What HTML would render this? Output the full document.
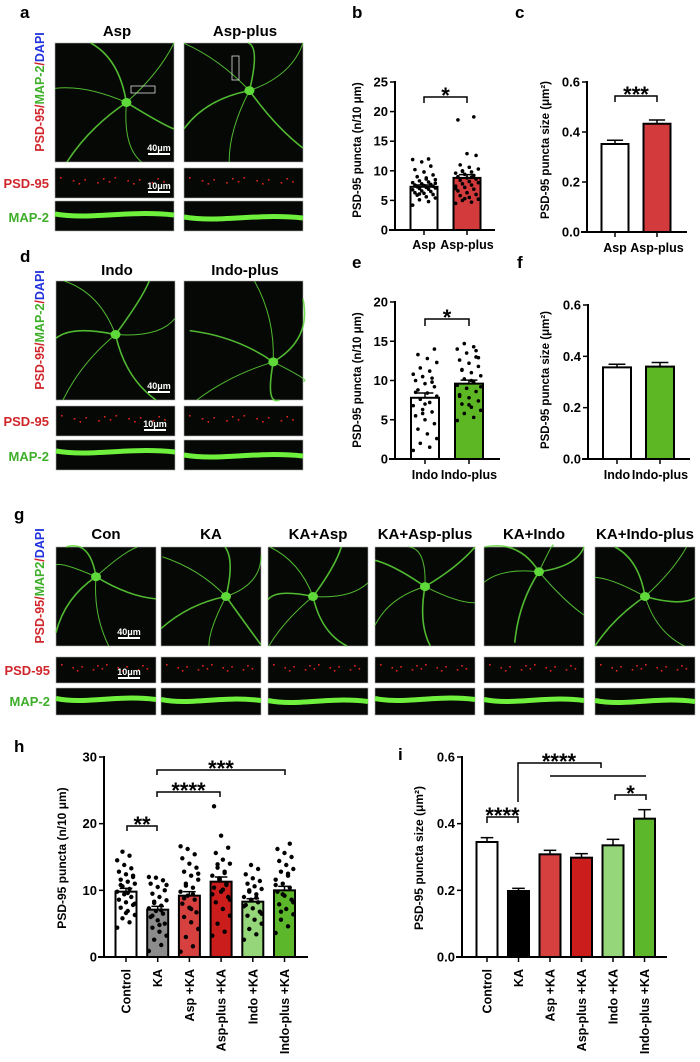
<!DOCTYPE html>
<html><head><meta charset="utf-8">
<style>
html,body{margin:0;padding:0;background:#fff;}
svg{display:block;font-family:"Liberation Sans",Arial,sans-serif;}
</style></head>
<body>
<svg id="fig" width="700" height="1062" viewBox="0 0 700 1062" xmlns="http://www.w3.org/2000/svg">
<g id="micro"></g>
<g id="charts"></g>
</svg>
<script>
// ===== Chart data =====
const bCats = ["Asp","Asp-plus"];
const bVals = [7.3, 8.8];
const bErrs = [0.3, 0.55];
const bDots0 = [4.2,4.8,5.1,5.4,5.6,5.9,6.0,6.2,6.3,6.5,6.6,6.8,6.9,7.0,7.1,7.2,7.3,7.4,7.5,7.6,7.7,7.8,8.0,8.1,8.3,8.5,8.8,9.0,9.3,9.8,10.2,10.8,11.5,11.9,12.0,6.1,7.9,8.6];
const bDots1 = [4.5,4.7,5.0,5.2,5.5,5.8,6.0,6.3,6.6,6.9,7.2,7.4,7.6,7.8,8.0,8.2,8.4,8.6,8.8,9.0,9.2,9.4,9.6,9.8,10.0,10.3,10.6,11.0,12.6,12.9,18.6,19.1,5.3,7.0,8.9,9.9];
const bTicks = [0,5,10,15,20,25];

const cCats = ["Asp","Asp-plus"];
const cVals = [0.352, 0.433];
const cErrs = [0.015, 0.015];
const cTicks = [0.0,0.2,0.4,0.6];

const eCats = ["Indo","Indo-plus"];
const eVals = [7.8, 9.6];
const eErrs = [0.6, 0.45];
const eDots0 = [1.1,1.5,2.0,2.6,3.2,3.8,4.5,5.0,5.5,6.0,6.3,6.8,7.2,7.6,8.0,8.4,8.8,9.2,9.6,10.0,10.3,10.5,10.8,11.2,11.6,12.3,12.8,13.3,14.0,7.0,8.5,9.8,5.8];
const eDots1 = [4.9,5.3,5.8,6.2,6.6,7.0,7.4,7.8,8.2,8.6,9.0,9.4,9.8,10.2,10.6,11.0,11.4,11.8,12.2,12.6,13.0,13.5,14.0,14.3,14.7,9.2,10.0,11.3,12.9,6.9,8.0,13.8];
const eTicks = [0,5,10,15,20];

const fCats = ["Indo","Indo-plus"];
const fVals = [0.357, 0.36];
const fErrs = [0.012, 0.016];
const fTicks = [0.0,0.2,0.4,0.6];

const hCats = ["Control","KA","Asp +KA","Asp-plus +KA","Indo +KA","Indo-plus +KA"];
const hVals = [9.8, 7.1, 9.2, 11.3, 8.3, 10.0];
const hErrs = [0.5, 0.5, 0.6, 0.7, 0.45, 0.6];
const hDots = [
 [4.4,5.2,5.8,6.3,6.9,7.4,7.8,8.2,8.6,9.0,9.4,9.8,10.2,10.6,11.0,11.3,11.6,12.0,12.4,12.8,13.3,13.8,14.5,15.2,15.8,8.0,9.6,10.8,12.2,6.6],
 [0.9,1.8,2.6,3.2,3.8,4.4,5.0,5.5,6.0,6.5,6.9,7.3,7.7,8.1,8.5,9.0,9.5,10.0,10.5,11.0,11.5,11.9,12.0,7.0,8.3,10.8,4.8,6.2],
 [0.8,1.6,3.0,4.2,5.2,6.0,6.7,7.4,8.0,8.6,9.2,9.8,10.4,11.0,11.6,12.2,12.8,13.4,14.0,14.8,15.4,16.2,16.6,9.4,10.7,12.5,7.2,8.8],
 [3.2,3.8,5.0,6.2,7.2,8.2,9.0,9.8,10.4,11.0,11.6,12.2,12.8,13.4,14.0,14.6,15.6,16.4,18.2,22.6,10.8,11.8,9.4,12.6,13.9,8.6,10.1],
 [2.6,3.4,4.2,5.0,5.6,6.2,6.8,7.3,7.8,8.2,8.6,9.0,9.4,9.8,10.2,10.6,11.0,11.4,11.8,12.4,13.2,13.8,7.6,8.9,10.0,6.5],
 [3.6,4.6,5.6,6.4,7.2,7.9,8.6,9.2,9.8,10.4,11.0,11.6,12.2,12.8,13.2,13.8,14.4,15.0,15.6,16.2,17.0,9.4,10.8,12.5,6.8,8.2]
];
const hTicks = [0,10,20,30];

const iCats = ["Control","KA","Asp +KA","Asp-plus +KA","Indo +KA","Indo-plus +KA"];
const iVals = [0.345, 0.198, 0.308, 0.298, 0.335, 0.415];
const iErrs = [0.013, 0.008, 0.012, 0.012, 0.018, 0.027];
const iTicks = [0.0,0.2,0.4,0.6];

// ===== helpers =====
const NS = "http://www.w3.org/2000/svg";
const micro = document.getElementById('micro');
const charts = document.getElementById('charts');
function mk(tag, attrs, parent){
  const e = document.createElementNS(NS, tag);
  for (const k in attrs) e.setAttribute(k, attrs[k]);
  (parent || charts).appendChild(e);
  return e;
}

function txt(x,y,s,opt,parent){
  const t = mk('text',{x:x,y:y,'font-size':opt.size||12,'font-weight':opt.weight||'bold','text-anchor':opt.anchor||'middle',fill:opt.fill||'#000'},parent||charts);
  if (opt.rot) t.setAttribute('transform','rotate('+opt.rot+' '+x+' '+y+')');
  t.textContent = s;
  return t;
}

function barChart(cfg){
  const g = mk('g',{},charts);
  
  
  const n = cfg.vals.length;
  const yScale = v => cfg.y0 - (v - 0) / cfg.max * (cfg.y0 - cfg.yTop);
  const xScale = i => cfg.firstX + i * cfg.step;
  for (let i=0;i<n;i++){
    const cx = xScale(i), top = yScale(cfg.vals[i]);
    const r = mk('rect',{x:cx-cfg.bw/2,y:top,width:cfg.bw,height:cfg.y0-top,fill:cfg.colors[i],stroke:'#000','stroke-width':cfg.sw||2},g);
    
    
  }
  if (cfg.dots){
    for (let i=0;i<n;i++){
      const arr = cfg.dots[i];
      for (let j=0;j<arr.length;j++){
        const off = ((j*7)%11 - 5) / 5 * (cfg.bw*0.42);
        const d = mk('circle',{cx:xScale(i)+off, cy:yScale(arr[j]), r:cfg.dotR||1.8, fill:'#000'},g);
        
        
      }
    }
  }
  for (let i=0;i<n;i++){
    const cx = xScale(i), yv = yScale(cfg.vals[i]), ye = yScale(cfg.vals[i]+cfg.errs[i]);
    mk('line',{x1:cx,y1:yv,x2:cx,y2:ye,stroke:'#000','stroke-width':1.5},g);
    mk('line',{x1:cx-cfg.bw*0.3,y1:ye,x2:cx+cfg.bw*0.3,y2:ye,stroke:'#000','stroke-width':1.5},g);
  }
  const ya = mk('line',{x1:cfg.ax,y1:cfg.yTop-1,x2:cfg.ax,y2:cfg.y0+1,stroke:'#000','stroke-width':2},g);
  
  
  const xa = mk('line',{x1:cfg.ax-6,y1:cfg.y0,x2:cfg.axEnd,y2:cfg.y0,stroke:'#000','stroke-width':2},g);
  
  
  for (const t of cfg.ticks){
    const y = yScale(t);
    mk('line',{x1:cfg.ax-5,y1:y,x2:cfg.ax,y2:y,stroke:'#000','stroke-width':1.5},g);
    const tl = txt(cfg.ax-7, y+4.5, cfg.decimals ? t.toFixed(1) : String(t), {size:cfg.tickSize||13,anchor:'end'}, g);
    
    
  }
  for (let i=0;i<n;i++){
    const cx = xScale(i);
    mk('line',{x1:cx,y1:cfg.y0,x2:cx,y2:cfg.y0+5,stroke:'#000','stroke-width':1.5},g);
    let tl;
    if (cfg.rotLabels){
      tl = txt(cx+4.5, cfg.y0+12, cfg.cats[i], {size:12.5,anchor:'end',rot:-90}, g);
    } else {
      tl = txt(cx, cfg.labelY, cfg.cats[i], {size:12.5,anchor:'middle'}, g);
    }
    
    
  }
  const yl = txt(cfg.ylx, cfg.yly, cfg.ylabel, {size:cfg.ylSize||11.5,anchor:'middle',rot:-90}, g);
  
  
  return {g, yScale, xScale};
}

function bracket(g, x1, x2, y, drop, stars){
  mk('path',{d:'M'+x1+' '+(y+drop)+'V'+y+'H'+x2+'V'+(y+drop),fill:'none',stroke:'#000','stroke-width':1.5},g);
  const t = txt((x1+x2)/2, y+6, stars, {size:22}, g);
  
  
}

// ===== charts =====
const B = barChart({name:'chart-b',cats:bCats,vals:bVals,errs:bErrs,dots:[bDots0,bDots1],colors:['#fff','#d23a3c'],
  ax:395,axEnd:495,yTop:82,y0:230,max:25,ticks:bTicks,firstX:424,step:43,bw:27,labelY:249,
  ylabel:'PSD-95 puncta (n/10 μm)',ylx:361,yly:150});
bracket(B.g,424,467,97,6,'*');

const C = barChart({name:'chart-c',cats:cCats,vals:cVals,errs:cErrs,colors:['#fff','#d23a3c'],
  ax:587,axEnd:687,yTop:82,y0:232,max:0.6,ticks:cTicks,decimals:true,firstX:615,step:42,bw:27,labelY:252,
  ylabel:'PSD-95 puncta size (μm²)',ylx:549,yly:150});
bracket(C.g,615,657,96,6,'***');

const E = barChart({name:'chart-e',cats:eCats,vals:eVals,errs:eErrs,dots:[eDots0,eDots1],colors:['#fff','#5db624'],
  ax:395,axEnd:500,yTop:302,y0:459,max:20,ticks:eTicks,firstX:425,step:44,bw:28,labelY:479,
  ylabel:'PSD-95 puncta (n/10 μm)',ylx:361,yly:380});
bracket(E.g,425,469,319,7,'*');

const F = barChart({name:'chart-f',cats:fCats,vals:fVals,errs:fErrs,colors:['#fff','#5db624'],
  ax:588,axEnd:690,yTop:305,y0:459,max:0.6,ticks:fTicks,decimals:true,firstX:617,step:43,bw:28,labelY:479,
  ylabel:'PSD-95 puncta size (μm²)',ylx:549,yly:380});

const H = barChart({name:'chart-h',cats:hCats,vals:hVals,errs:hErrs,dots:hDots,dotR:2.2,
  colors:['#fff','#8c8c8c','#d6403f','#cc1d1d','#96d67a','#5cb82a'],
  ax:104,axEnd:308,yTop:757,y0:957,max:30,ticks:hTicks,firstX:126,step:31.7,bw:21,rotLabels:true,
  ylabel:'PSD-95 puncta (n/10 μm)',ylx:66,yly:858,ylSize:12});
bracket(H.g,157,285,770,5,'***');
bracket(H.g,157,220,792,5,'****');
bracket(H.g,127,157,826,5,'**');

const I = barChart({name:'chart-i',cats:iCats,vals:iVals,errs:iErrs,
  colors:['#fff','#000','#d6403f','#cc1d1d','#96d67a','#5cb82a'],
  ax:462,axEnd:667,yTop:757,y0:957,max:0.6,ticks:iTicks,decimals:true,firstX:487,step:31.5,bw:21,rotLabels:true,
  ylabel:'PSD-95 puncta size (μm²)',ylx:423,yly:858,ylSize:12});
mk('path',{d:'M518 802V763H601V768',fill:'none',stroke:'#000','stroke-width':1.5},I.g);
mk('line',{x1:550,y1:776,x2:646,y2:776,stroke:'#000','stroke-width':1.5},I.g);
(function(){const t=txt(559,769,'****',{size:22},I.g);

})();
bracket(I.g,615,646,795,5,'*');
bracket(I.g,487,518,817,6,'****');

// panel letters
[['a',20,18],['b',352,18],['c',515,18],['d',20,262],['e',352,268],['f',517,268],['g',14,520],['h',14,752],['i',398,760]].forEach(p=>{
  const t = txt(p[1],p[2],p[0],{size:17,anchor:'start'},charts);
  
  
});

// ===== microscopy =====
function panel(x,y,w,h,name){
  const g = mk('g',{},micro);
  
  
  mk('rect',{x:x,y:y,width:w,height:h,fill:'#050805',stroke:'#aaa','stroke-width':0.6},g);
  return g;
}
function neuron(g,x,y,w,h,sx,sy,seed){
  const G='#5fd83a';
  const cx=x+w*sx, cy=y+h*sy;
  const ang=[0.3,1.4,2.3,3.3,4.3,5.3];
  ang.forEach((a,k)=>{
    const aa=a+seed*0.4;
    const L=Math.max(w,h)*0.75;
    const ex=cx+Math.cos(aa)*L, ey=cy+Math.sin(aa)*L;
    const mx=cx+Math.cos(aa+0.25)*L*0.5, my=cy+Math.sin(aa+0.25)*L*0.5;
    const px=Math.min(Math.max(ex,x),x+w), py=Math.min(Math.max(ey,y),y+h);
    mk('path',{d:'M'+cx+' '+cy+'Q'+mx+' '+my+' '+px+' '+py,fill:'none',stroke:G,'stroke-width':k%2?1:1.6,opacity:0.85},g);
  });
  mk('ellipse',{cx:cx,cy:cy,rx:5,ry:4.5,fill:G},g);
}
function strip(x,y,w,h,name,kind,shape){
  const g = panel(x,y,w,h,name);
  if (kind==='map'){
    const m=y+h/2+(shape||0);
    mk('path',{d:'M'+x+' '+(m-2)+'C'+(x+w*0.3)+' '+(m+4)+' '+(x+w*0.6)+' '+(m-6)+' '+(x+w)+' '+(m-1),fill:'none',stroke:'#6ef03c','stroke-width':5},g);
  } else {
    for(let k=0;k<14;k++){
      mk('rect',{x:x+5+k*(w-10)/14+((k*5)%7),y:y+h/2-3+((k*3)%7)-3,width:1.6,height:1.6,fill:'#e0241e'},g);
    }
  }
  return g;
}
function scale(g,x,y,label){
  mk('line',{x1:x,y1:y,x2:x+22,y2:y,stroke:'#fff','stroke-width':2},g);
  txt(x+11,y-3,label,{size:9,fill:'#fff'},g);
}
function titleT(x,y,s){const t=txt(x,y,s,{size:15},micro);
  
  }
function sideLabel(x,cy,parts){
  const t=mk('text',{x:x,y:cy,'font-size':12.5,'font-weight':'bold','text-anchor':'middle',transform:'rotate(-90 '+x+' '+cy+')'},micro);
  
  
  parts.forEach(p=>{const s=mk('tspan',{fill:p[1]},t); s.textContent=p[0];});
}
function rowLabel(x,y,s,c){const t=txt(x,y,s,{size:13,anchor:'end',fill:c},micro);
  
  }
const RED='#d0262b', GRN='#3fae2a', BLU='#2233dd';
const lab=[['PSD-95',RED],['/',RED],['MAP-2',GRN],['/',RED],['DAPI',BLU]];
const lab2=[['PSD-95',RED],['/',RED],['MAP2',GRN],['/',RED],['DAPI',BLU]];

// a
titleT(117,36,'Asp'); titleT(245,36,'Asp-plus');
let p=panel(55,43,119,119,'image-asp'); neuron(p,55,43,119,119,0.6,0.5,0); scale(p,148,154,'40μm');
mk('rect',{x:131,y:86,width:24,height:7,fill:'none',stroke:'#ddd','stroke-width':0.8},p);
p=panel(184,43,119,119,'image-asp-plus'); neuron(p,184,43,119,119,0.55,0.4,1);
mk('rect',{x:232,y:56,width:7,height:24,fill:'none',stroke:'#ddd','stroke-width':0.8},p);
sideLabel(44,92,lab);
p=strip(55,168,119,30,'psd95-asp','psd'); scale(p,148,192,'10μm');
strip(184,168,119,30,'psd95-asp-plus','psd');
strip(55,201,119,30,'map2-asp','map',0); strip(184,201,119,30,'map2-asp-plus','map',3);
rowLabel(49,188,'PSD-95',RED); rowLabel(49,222,'MAP-2',GRN);
// d
titleT(117,275,'Indo'); titleT(245,275,'Indo-plus');
p=panel(56,281,119,119,'image-indo'); neuron(p,56,281,119,119,0.5,0.45,2); scale(p,148,392,'40μm');
p=panel(184,281,119,119,'image-indo-plus'); neuron(p,184,281,119,119,0.75,0.68,3);
sideLabel(44,330,lab);
p=strip(56,406,119,30,'psd95-indo','psd'); scale(p,144,430,'10μm');
strip(184,406,119,30,'psd95-indo-plus','psd');
strip(56,440,119,30,'map2-indo','map',-2); strip(184,440,119,30,'map2-indo-plus','map',2);
rowLabel(49,426,'PSD-95',RED); rowLabel(49,461,'MAP-2',GRN);
// g
const gT=['Con','KA','KA+Asp','KA+Asp-plus','KA+Indo','KA+Indo-plus'];
const gX=[56,161,268,375,484,595];
gT.forEach((s,k)=>{
  titleT(gX[k]+50,539,s);
  const slug=s.toLowerCase().replace(/[^a-z0-9]+/g,'-');
  const q=panel(gX[k],547,100,99,'image-'+slug);
  neuron(q,gX[k],547,100,99,[0.4,0.65,0.45,0.5,0.55,0.5][k],[0.3,0.5,0.5,0.4,0.25,0.5][k],k);
  const r=strip(gX[k],657,100,26,'psd95-'+slug,'psd');
  if(k===0) scale(r,118,678,'10μm');
  strip(gX[k],688,100,27,'map2-'+slug,'map',(k%3)-1);
  if(k===0) scale(q,118,638,'40μm');
});
sideLabel(44,586,lab2);
rowLabel(50,675,'PSD-95',RED); rowLabel(50,706,'MAP-2',GRN);
</script>
</body></html>
